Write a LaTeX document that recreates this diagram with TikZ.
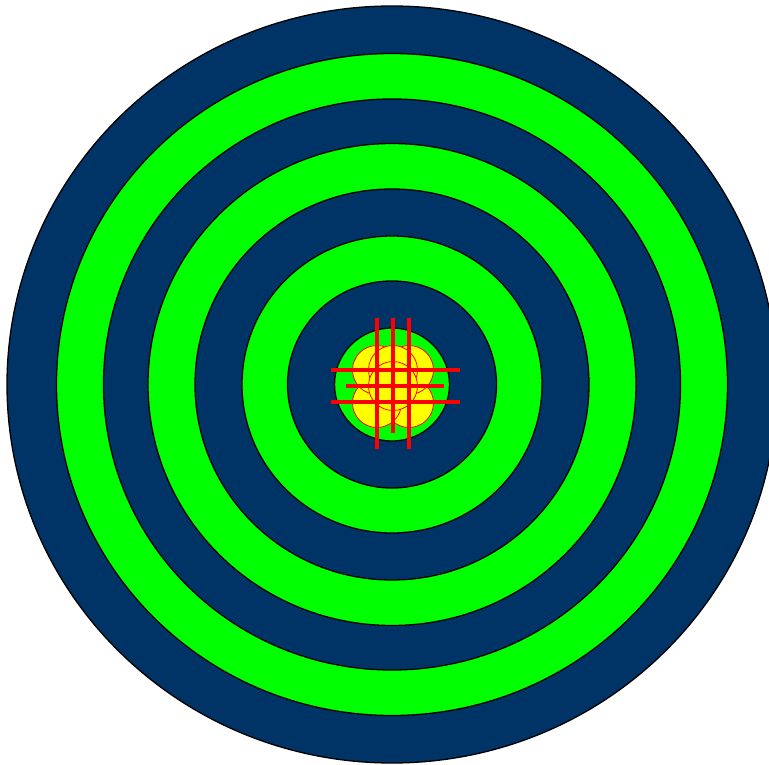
\documentclass[tikz,border=0pt]{standalone}
\usepackage{xcolor}
\definecolor{ringBlue}  {HTML}{003366}
\definecolor{ringGreen} {HTML}{00FF00}
\definecolor{hitYellow} {HTML}{FFFF00}
\definecolor{hitRed}    {HTML}{FF0000}

\begin{document}
\begin{tikzpicture}[
    x=1pt, y=-1pt,
    ring/.style={draw=black, line width=1.3pt},
    hit/.style={draw=hitRed, fill=hitYellow, line width=0.8pt},
    cross/.style={draw=hitRed, line width=3.4pt}
]
\useasboundingbox (0,0) rectangle (769,765);
\clip (0,0) rectangle (769,765);
% Rings, outside in
\foreach \rx/\ry/\c in {385/378.5/ringBlue, 335.5/331/ringGreen,
                        288.5/285.5/ringBlue, 244/241/ringGreen,
                        197/195.5/ringBlue, 150/148.5/ringGreen,
                        104.5/103.5/ringBlue, 57.5/56.5/ringGreen} {
    \filldraw[ring, fill=\c] (392,384.5) ellipse [x radius=\rx, y radius=\ry];
}
% Hits
\foreach \x/\y in {409/403, 377/403, 377/370, 409/370, 393/370, 393/386} {
    \filldraw[hit] (\x,\y) circle [radius=24.5];
}
% Cross lines
\foreach \y in {370, 402} {
    \draw[cross] (331,\y) -- (460,\y);
}
\draw[cross] (346,386) -- (444,386);
\foreach \x in {377, 409} {
    \draw[cross] (\x,318) -- (\x,449);
}
\draw[cross] (393,318) -- (393,433);
\end{tikzpicture}
\end{document}
